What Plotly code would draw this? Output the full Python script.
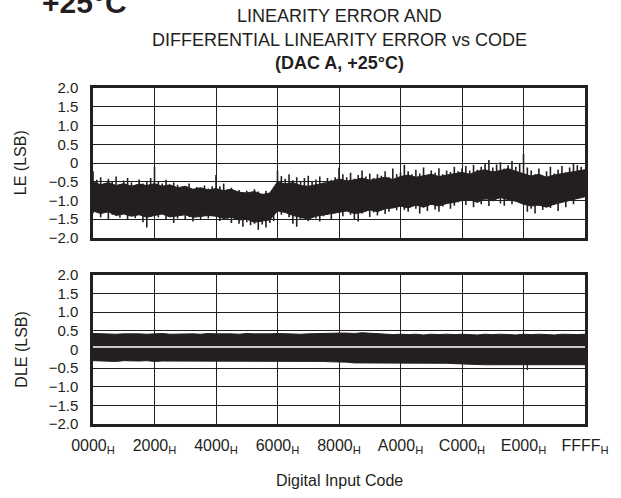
import plotly.graph_objects as go

INK = '#231f20'

# ---- axis ticks ----
code_ticks = [0x0000, 0x2000, 0x4000, 0x6000, 0x8000, 0xA000, 0xC000, 0xE000, 0xFFFF]
code_labels = ['0000', '2000', '4000', '6000', '8000', 'A000', 'C000', 'E000', 'FFFF']
err_ticks = [2.0, 1.5, 1.0, 0.5, 0, -0.5, -1.0, -1.5, -2.0]
err_labels = ['2.0', '1.5', '1.0', '0.5', '0', '\u22120.5', '\u22121.0', '\u22121.5', '\u22122.0']

# ---- LE: dense core of the trace, read every 1024 codes ----
le_core_code = list(range(0, 65536, 1024)) + [65535]
le_core_top = [-0.50, -0.58, -0.52, -0.60, -0.55, -0.62, -0.56, -0.60,
               -0.55, -0.62, -0.58, -0.66, -0.62, -0.70, -0.66, -0.72,
               -0.68, -0.74, -0.70, -0.78, -0.80, -0.76, -0.84, -0.80,
               -0.50, -0.56, -0.52, -0.60, -0.62, -0.58, -0.55, -0.50,
               -0.42, -0.48, -0.45, -0.40, -0.46, -0.42, -0.38, -0.44,
               -0.36, -0.32, -0.38, -0.34, -0.30, -0.36, -0.32, -0.28,
               -0.25, -0.30, -0.22, -0.18, -0.24, -0.20, -0.15, -0.22,
               -0.28, -0.35, -0.30, -0.38, -0.32, -0.28, -0.24, -0.20, -0.18]
le_core_bot = [-1.28, -1.35, -1.30, -1.40, -1.36, -1.42, -1.38, -1.45,
               -1.40, -1.36, -1.44, -1.40, -1.38, -1.45, -1.42, -1.40,
               -1.42, -1.48, -1.45, -1.52, -1.50, -1.58, -1.55, -1.52,
               -1.28, -1.32, -1.40, -1.45, -1.50, -1.42, -1.38, -1.35,
               -1.30, -1.28, -1.35, -1.32, -1.25, -1.30, -1.22, -1.20,
               -1.15, -1.20, -1.12, -1.18, -1.10, -1.15, -1.08, -1.05,
               -1.00, -0.98, -1.05, -0.95, -1.00, -0.92, -0.98, -1.02,
               -1.10, -1.15, -1.12, -1.18, -1.10, -1.05, -1.00, -0.95, -0.90]

# ---- LE: peak excursions, read every 512 codes ----
le_peak_code = list(range(0, 65536, 512))
le_peak_hi = [
    -0.22, -0.45, -0.38, -0.55, -0.42, -0.50, -0.36, -0.58, -0.47, -0.40, -0.52, -0.61, -0.44, -0.55, -0.49, -0.40,
    -0.10, -0.48, -0.55, -0.45, -0.60, -0.52, -0.58, -0.66, -0.62, -0.55, -0.70, -0.64, -0.72, -0.60, -0.68, -0.62,
    -0.32, -0.62, -0.55, -0.70, -0.66, -0.78, -0.72, -0.85, -0.74, -0.80, -0.70, -0.76, -0.82, -0.74, -0.80, -0.72,
    -0.20, -0.35, -0.42, -0.30, -0.46, -0.38, -0.50, -0.40, -0.34, -0.48, -0.44, -0.36, -0.52, -0.40, -0.45, -0.38,
    -0.13, -0.30, -0.38, -0.26, -0.42, -0.32, -0.20, -0.36, -0.28, -0.40, -0.30, -0.34, -0.22, -0.38, -0.15, -0.30,
    -0.25, -0.05, -0.22, -0.30, -0.18, -0.28, -0.12, -0.34, -0.20, -0.26, -0.14, -0.30, -0.20, -0.24, -0.10, -0.22,
    -0.15, -0.08, -0.20, -0.05, -0.18, -0.10, -0.02, 0.08, -0.12, -0.04, 0.02, -0.15, -0.06, 0.05, -0.10, 0.00,
    0.24, -0.12, -0.20, -0.30, -0.15, -0.38, -0.22, -0.10, -0.28, -0.18, -0.08, -0.25, -0.12, 0.00, -0.06, -0.10]
le_peak_lo = [
    -1.35, -1.22, -1.45, -1.30, -1.50, -1.38, -1.28, -1.46, -1.33, -1.52, -1.40, -1.47, -1.36, -1.58, -1.72, -1.44,
    -1.32, -1.45, -1.28, -1.50, -1.40, -1.60, -1.48, -1.38, -1.52, -1.44, -1.56, -1.42, -1.50, -1.36, -1.48, -1.40,
    -1.42, -1.55, -1.48, -1.52, -1.60, -1.50, -1.62, -1.70, -1.58, -1.66, -1.62, -1.78, -1.64, -1.72, -1.60, -1.55,
    -1.25, -1.38, -1.30, -1.45, -1.62, -1.70, -1.50, -1.40, -1.55, -1.36, -1.48, -1.56, -1.42, -1.38, -1.50, -1.34,
    -1.30, -1.42, -1.22, -1.38, -1.50, -1.56, -1.35, -1.28, -1.44, -1.32, -1.40, -1.25, -1.36, -1.30, -1.18, -1.26,
    -1.15, -1.25, -1.30, -1.10, -1.22, -1.35, -1.18, -1.28, -1.12, -1.24, -1.30, -1.16, -1.08, -1.22, -1.14, -1.05,
    -1.02, -1.12, -0.95, -1.18, -1.05, -1.10, -0.98, -1.15, -1.02, -0.92, -1.08, -1.14, -1.00, -1.10, -0.95, -1.05,
    -1.10, -1.30, -1.22, -1.35, -1.15, -1.25, -1.08, -1.20, -1.12, -1.28, -1.02, -1.18, -1.00, -1.10, -0.95, -0.85]

# ---- DLE: envelope read every 1024 codes ----
dle_code = list(range(0, 65536, 1024)) + [65535]
dle_hi = [0.43, 0.42, 0.43, 0.41, 0.42, 0.43, 0.42, 0.41, 0.42, 0.43, 0.41, 0.42, 0.43, 0.42, 0.41, 0.43,
          0.42, 0.43, 0.42, 0.41, 0.43, 0.42, 0.41, 0.42, 0.43, 0.42, 0.43, 0.41, 0.42, 0.43, 0.43, 0.44,
          0.44, 0.44, 0.43, 0.45, 0.44, 0.42, 0.41, 0.40, 0.41, 0.40, 0.41, 0.39, 0.41, 0.40, 0.41, 0.40,
          0.41, 0.40, 0.39, 0.41, 0.40, 0.41, 0.40, 0.39, 0.41, 0.40, 0.41, 0.40, 0.39, 0.41, 0.40, 0.40, 0.41]
dle_lo = [-0.30, -0.31, -0.31, -0.32, -0.30, -0.31, -0.31, -0.30, -0.32, -0.31, -0.31, -0.30, -0.31, -0.32, -0.31, -0.30,
          -0.31, -0.32, -0.31, -0.30, -0.31, -0.32, -0.32, -0.31, -0.32, -0.32, -0.31, -0.32, -0.32, -0.31, -0.32, -0.33,
          -0.33, -0.34, -0.36, -0.36, -0.35, -0.36, -0.36, -0.37, -0.36, -0.36, -0.37, -0.37, -0.36, -0.37, -0.37, -0.38,
          -0.39, -0.40, -0.40, -0.41, -0.41, -0.40, -0.41, -0.41, -0.41, -0.40, -0.41, -0.41, -0.41, -0.40, -0.41, -0.41, -0.41]
dle_gap = 0.07          # white gap running through the DLE band
dle_spike_code = 0xE200
dle_spike_val = -0.55

fig = go.Figure()

# LE core (filled)
fig.add_trace(go.Scatter(x=le_core_code, y=le_core_top, mode='lines',
                         line=dict(color=INK, width=1), xaxis='x2', yaxis='y2', hoverinfo='skip'))
fig.add_trace(go.Scatter(x=le_core_code, y=le_core_bot, mode='lines', fill='tonexty', fillcolor=INK,
                         line=dict(color=INK, width=1), xaxis='x2', yaxis='y2', hoverinfo='skip'))

# LE peaks as vertical strokes
px, py = [], []
for c, hi, lo in zip(le_peak_code, le_peak_hi, le_peak_lo):
    px += [c, c, None]
    py += [lo, hi, None]
fig.add_trace(go.Scatter(x=px, y=py, mode='lines', line=dict(color=INK, width=1.6),
                         xaxis='x2', yaxis='y2', hoverinfo='skip'))

# DLE band
fig.add_trace(go.Scatter(x=dle_code, y=dle_hi, mode='lines', line=dict(color=INK, width=1),
                         xaxis='x', yaxis='y', hoverinfo='skip'))
fig.add_trace(go.Scatter(x=dle_code, y=dle_lo, mode='lines', fill='tonexty', fillcolor=INK,
                         line=dict(color=INK, width=1), xaxis='x', yaxis='y', hoverinfo='skip'))
fig.add_trace(go.Scatter(x=[dle_spike_code, dle_spike_code], y=[-0.3, dle_spike_val], mode='lines',
                         line=dict(color=INK, width=1.2), xaxis='x', yaxis='y', hoverinfo='skip'))
fig.add_trace(go.Scatter(x=[dle_code[0], dle_code[-1]], y=[dle_gap, dle_gap], mode='lines',
                         line=dict(color='white', width=1.5), xaxis='x', yaxis='y', hoverinfo='skip'))

xcommon = dict(range=[0, 65535], tickvals=code_ticks, showgrid=True, gridcolor=INK, gridwidth=1,
               showline=True, mirror=True, linewidth=2.5, linecolor=INK, zeroline=False,
               ticks='outside', ticklen=5, tickcolor='rgba(0,0,0,0)', tickfont=dict(size=16),
               fixedrange=True)
ycommon = dict(range=[-2, 2], tickvals=err_ticks, ticktext=err_labels, showgrid=True, gridcolor=INK,
               gridwidth=1, showline=True, mirror=True, linewidth=2.5, linecolor=INK, zeroline=False,
               ticks='outside', ticklen=9, tickcolor='rgba(0,0,0,0)', tickfont=dict(size=15),
               fixedrange=True)

title_lines = ['LINEARITY ERROR AND', 'DIFFERENTIAL LINEARITY ERROR vs CODE', '<b>(DAC A, +25\u00b0C)</b>']
title_y = [1.2143, 1.1443, 1.0744]

annotations = [
    dict(text=t, xref='paper', yref='paper', x=0.5, y=y, xanchor='center', yanchor='middle',
         showarrow=False, font=dict(size=18))
    for t, y in zip(title_lines, title_y)
]
annotations += [
    dict(text='<b>+25\u00b0C</b>', xref='paper', yref='paper', x=-0.107, y=1.1994,
         xanchor='left', yanchor='bottom', showarrow=False, font=dict(size=30)),
    dict(text='LE (LSB)', xref='paper', yref='paper', x=-0.146, y=0.7768, textangle=-90,
         xanchor='center', yanchor='middle', showarrow=False, font=dict(size=16)),
    dict(text='DLE (LSB)', xref='paper', yref='paper', x=-0.146, y=0.2218, textangle=-90,
         xanchor='center', yanchor='middle', showarrow=False, font=dict(size=16)),
    dict(text='Digital Input Code', xref='paper', yref='paper', x=0.5, y=-0.1667,
         xanchor='center', yanchor='middle', showarrow=False, font=dict(size=16)),
]

fig.update_layout(
    width=621, height=498,
    margin=dict(l=93, r=29, t=88, b=74),
    paper_bgcolor='white', plot_bgcolor='white',
    showlegend=False,
    font=dict(family='Liberation Sans, Arial, sans-serif', size=16, color=INK),
    xaxis=dict(xcommon, domain=[0, 1], anchor='y',
               ticktext=[l + '<sub>H</sub>' for l in code_labels]),
    xaxis2=dict(xcommon, domain=[0, 1], anchor='y2', showticklabels=False, matches='x'),
    yaxis=dict(ycommon, domain=[0, 0.4435], anchor='x'),
    yaxis2=dict(ycommon, domain=[0.5536, 1], anchor='x2'),
    annotations=annotations,
)

# drop the browser's default 8px body margin so the figure sits at the page origin
fig.write_html('out.html', config={'displayModeBar': False},
               post_script="document.body.style.margin='0';")
